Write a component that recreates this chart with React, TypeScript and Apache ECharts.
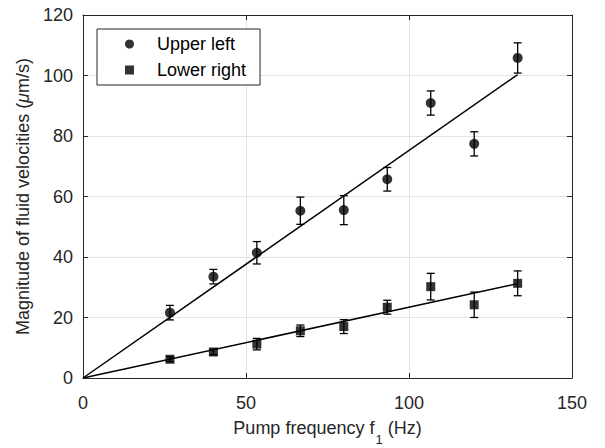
import React, { useEffect, useRef } from "react";
import * as echarts from "echarts";

const freq = [26.67, 40, 53.33, 66.67, 80, 93.33, 106.67, 120, 133.33];
const upper = [21.6, 33.5, 41.4, 55.3, 55.5, 65.7, 90.9, 77.4, 105.8];
const upperErr = [2.4, 2.4, 3.7, 4.5, 4.8, 3.9, 4.0, 4.0, 5.0];
const lower = [6.2, 8.6, 11.2, 15.6, 17.0, 23.4, 30.2, 24.2, 31.3];
const lowerErr = [0.8, 0.9, 1.9, 1.9, 2.3, 2.3, 4.4, 4.2, 4.1];
const upperFit = [[0, 0], [133.33, 100.3]];
const lowerFit = [[0, 0], [133.33, 31.2]];
const xTicks = { min: 0, max: 150, interval: 50 };
const yTicks = { min: 0, max: 120, interval: 20 };

const INK = "#262626";
const FONT = "Liberation Sans";
const SQUARE = "path://M0,0H10V10H0Z";

export default function App() {
  const ref = useRef<HTMLDivElement>(null);
  useEffect(() => {
    if (!ref.current) return;
    const chart = echarts.init(ref.current, undefined, { renderer: "svg" });
    const errRender = (params: any, api: any) => {
      const x = api.value(0);
      const top = api.coord([x, api.value(2)]);
      const bot = api.coord([x, api.value(1)]);
      const hw = 4;
      const st = { stroke: "#000", lineWidth: 1.3 };
      return {
        type: "group",
        children: [
          { type: "line", shape: { x1: top[0], y1: top[1], x2: bot[0], y2: bot[1] }, style: st },
          { type: "line", shape: { x1: top[0] - hw, y1: top[1], x2: top[0] + hw, y2: top[1] }, style: st },
          { type: "line", shape: { x1: bot[0] - hw, y1: bot[1], x2: bot[0] + hw, y2: bot[1] }, style: st },
        ],
      };
    };
    const axisCommon = {
      axisLine: { show: true, onZero: false, lineStyle: { color: INK, width: 1 } },
      axisTick: { show: true, inside: true, length: 5, lineStyle: { color: INK } },
    };
    chart.setOption({
      animation: false,
      textStyle: { fontFamily: FONT },
      grid: { left: 83, right: 33, top: 15, bottom: 70, containLabel: false, outerBoundsMode: "none" },
      legend: {
        orient: "vertical",
        left: 97,
        top: 29,
        itemWidth: 9,
        itemHeight: 9,
        itemGap: 8,
        padding: [6, 14, 6, 28],
        borderColor: INK,
        borderWidth: 1,
        backgroundColor: "#fff",
        textStyle: { fontFamily: FONT, fontSize: 18, color: "#000", lineHeight: 18, padding: [0, 0, 0, 18] },
        data: [
          { name: "Upper left", icon: "circle" },
          { name: "Lower right", icon: SQUARE },
        ],
      },
      xAxis: [
        {
          type: "value",
          ...xTicks,
          position: "bottom",
          ...axisCommon,
          axisLabel: { fontFamily: FONT, fontSize: 18, color: INK, margin: 16 },
          splitLine: { show: true, lineStyle: { color: "#e3e3e3", width: 1 } },
          name: "{a|Pump frequency f}{s|1}{a| (Hz)}",
          nameLocation: "middle",
          nameGap: 41,
          nameTextStyle: {
            rich: {
              a: { fontFamily: FONT, fontSize: 18, color: INK, lineHeight: 20, verticalAlign: "top" },
              s: { fontFamily: FONT, fontSize: 13, color: INK, lineHeight: 12, verticalAlign: "top", padding: [14, 0, 0, 1] },
            },
          },
        },
        {
          type: "value",
          ...xTicks,
          position: "top",
          ...axisCommon,
          axisLabel: { show: false },
          splitLine: { show: false },
        },
      ],
      yAxis: [
        {
          type: "value",
          ...yTicks,
          position: "left",
          ...axisCommon,
          axisLabel: { fontFamily: FONT, fontSize: 18, color: INK, margin: 10 },
          splitLine: { show: true, lineStyle: { color: "#e3e3e3", width: 1 } },
          name: "{a|Magnitude of fluid velocities (}{m|\u03BC}{a|m/s)}",
          nameLocation: "middle",
          nameGap: 48,
          nameTextStyle: {
            rich: {
              a: { fontFamily: FONT, fontSize: 18, color: INK },
              m: { fontFamily: FONT, fontSize: 18, color: INK, fontStyle: "italic" },
            },
          },
        },
        {
          type: "value",
          ...yTicks,
          position: "right",
          ...axisCommon,
          axisLabel: { show: false },
          splitLine: { show: false },
        },
      ],
      series: [
        {
          type: "line",
          data: upperFit,
          symbol: "none",
          lineStyle: { color: "#000", width: 1.5 },
          silent: true,
        },
        {
          type: "line",
          data: lowerFit,
          symbol: "none",
          lineStyle: { color: "#000", width: 1.5 },
          silent: true,
        },
        {
          type: "custom",
          renderItem: errRender,
          data: freq.map((f, i) => [f, upper[i] - upperErr[i], upper[i] + upperErr[i]]),
          encode: { x: 0, y: [1, 2] },
          z: 3,
        },
        {
          type: "custom",
          renderItem: errRender,
          data: freq.map((f, i) => [f, lower[i] - lowerErr[i], lower[i] + lowerErr[i]]),
          encode: { x: 0, y: [1, 2] },
          z: 3,
        },
        {
          name: "Upper left",
          type: "scatter",
          symbol: "circle",
          symbolSize: 10,
          itemStyle: { color: "#000" },
          data: freq.map((f, i) => [f, upper[i]]),
          z: 4,
        },
        {
          name: "Lower right",
          type: "scatter",
          symbol: SQUARE,
          symbolSize: 9,
          itemStyle: { color: "#000" },
          data: freq.map((f, i) => [f, lower[i]]),
          z: 4,
        },
      ],
    });
    return () => chart.dispose();
  }, []);
  return <div ref={ref} style={{ width: 605, height: 448, position: "absolute", left: 0, top: 0 }} />;
}
